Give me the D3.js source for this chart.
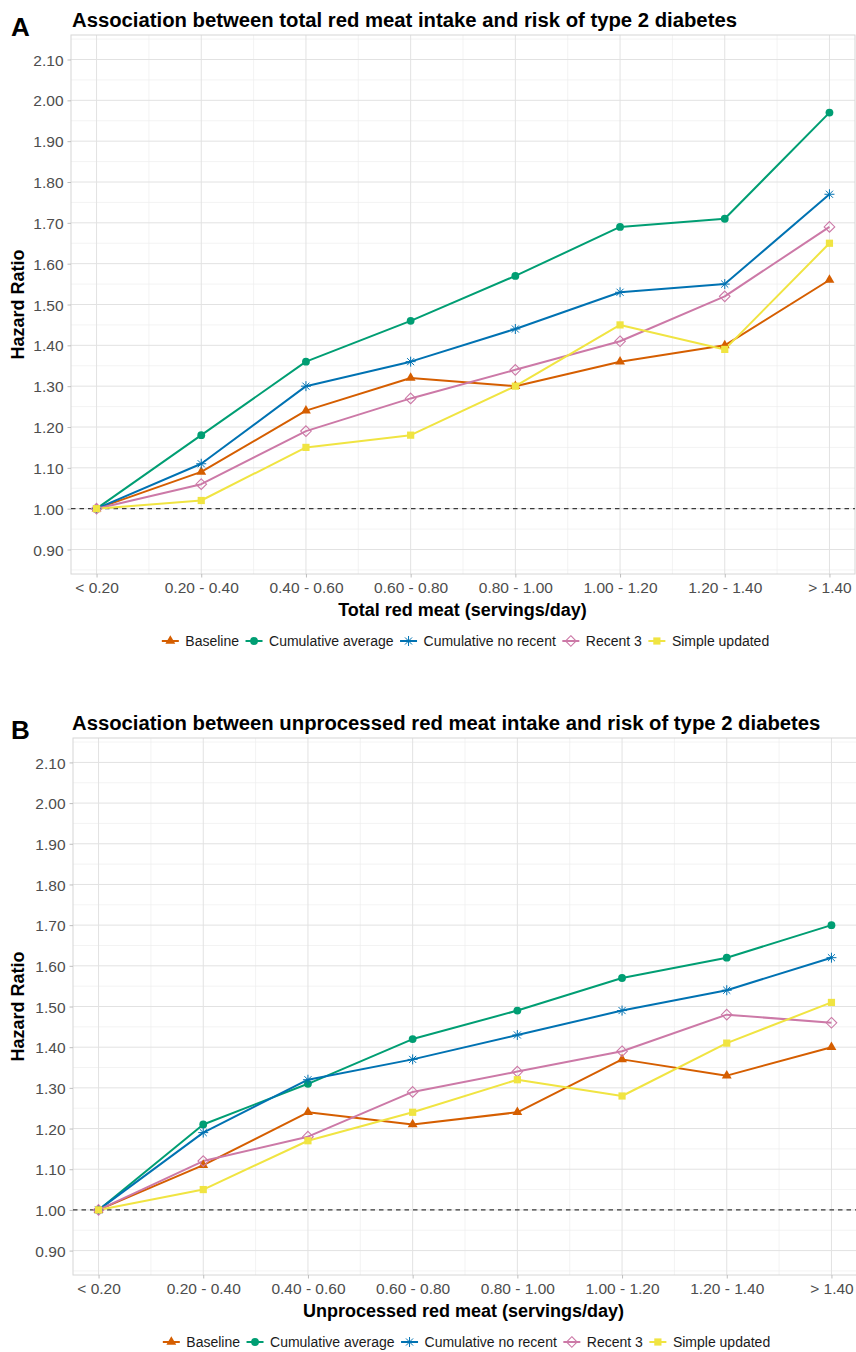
<!DOCTYPE html>
<html>
<head>
<meta charset="utf-8">
<script src="https://cdn.jsdelivr.net/npm/d3@7"></script>
<style>
  html, body { margin: 0; padding: 0; background: #fff; }
  svg { display: block; font-family: "Liberation Sans", Arial, Helvetica, sans-serif; }
</style>
</head>
<body>
<svg id="chart" width="856" height="1352"></svg>
<script>
// ---------------- DATA ----------------
const categories = ["< 0.20", "0.20 - 0.40", "0.40 - 0.60", "0.60 - 0.80", "0.80 - 1.00", "1.00 - 1.20", "1.20 - 1.40", "> 1.40"];
const seriesNames = ["Baseline", "Cumulative average", "Cumulative no recent", "Recent 3", "Simple updated"];
const seriesColors = ["#D55E00", "#009E73", "#0072B2", "#CC79A7", "#F0E442"];
const seriesShapes = ["triangle", "circle", "asterisk", "diamond", "square"];
const yTicks = [0.90, 1.00, 1.10, 1.20, 1.30, 1.40, 1.50, 1.60, 1.70, 1.80, 1.90, 2.00, 2.10];
const yMinorTicks = [0.85, 0.95, 1.05, 1.15, 1.25, 1.35, 1.45, 1.55, 1.65, 1.75, 1.85, 1.95, 2.05, 2.15];
const yDomain = [0.84, 2.16];
const refLine = 1.00;

// Panel A: total red meat
const totalBaseline     = [1.00, 1.09, 1.24, 1.32, 1.30, 1.36, 1.40, 1.56];
const totalCumAverage   = [1.00, 1.18, 1.36, 1.46, 1.57, 1.69, 1.71, 1.97];
const totalCumNoRecent  = [1.00, 1.11, 1.30, 1.36, 1.44, 1.53, 1.55, 1.77];
const totalRecent3      = [1.00, 1.06, 1.19, 1.27, 1.34, 1.41, 1.52, 1.69];
const totalSimpleUpd    = [1.00, 1.02, 1.15, 1.18, 1.30, 1.45, 1.39, 1.65];

// Panel B: unprocessed red meat
const unprocBaseline    = [1.00, 1.11, 1.24, 1.21, 1.24, 1.37, 1.33, 1.40];
const unprocCumAverage  = [1.00, 1.21, 1.31, 1.42, 1.49, 1.57, 1.62, 1.70];
const unprocCumNoRecent = [1.00, 1.19, 1.32, 1.37, 1.43, 1.49, 1.54, 1.62];
const unprocRecent3     = [1.00, 1.12, 1.18, 1.29, 1.34, 1.39, 1.48, 1.46];
const unprocSimpleUpd   = [1.00, 1.05, 1.17, 1.24, 1.32, 1.28, 1.41, 1.51];

const panels = [
  { tag: "A", title: "Association between total red meat intake and risk of type 2 diabetes",
    xTitle: "Total red meat (servings/day)",
    values: [totalBaseline, totalCumAverage, totalCumNoRecent, totalRecent3, totalSimpleUpd],
    top: 35, bottom: 574, left: 71, right: 855 },
  { tag: "B", title: "Association between unprocessed red meat intake and risk of type 2 diabetes",
    xTitle: "Unprocessed red meat (servings/day)",
    values: [unprocBaseline, unprocCumAverage, unprocCumNoRecent, unprocRecent3, unprocSimpleUpd],
    top: 738, bottom: 1275, left: 73, right: 857 }
];

// ---------------- DRAW ----------------
const svg = d3.select("#chart");

function shapePath(shape) {
  switch (shape) {
    case "triangle": return d3.symbol(d3.symbolTriangle, 42)();
    case "circle": return d3.symbol(d3.symbolCircle, 48)();
    case "square": return d3.symbol(d3.symbolSquare, 52)();
    case "diamond": { const r = 5.3; return `M0,${-r}L${r},0L0,${r}L${-r},0Z`; }
    case "asterisk": {
      const r = 5, d = r * 0.7071;
      return `M${-r},0L${r},0M0,${-r}L0,${r}M${-d},${-d}L${d},${d}M${-d},${d}L${d},${-d}`;
    }
  }
}
function styleMarker(sel, shape, color) {
  if (shape === "diamond") sel.attr("fill", "none").attr("stroke", color).attr("stroke-width", 1.1);
  else if (shape === "asterisk") sel.attr("fill", "none").attr("stroke", color).attr("stroke-width", 1.0);
  else sel.attr("fill", color).attr("stroke", "none");
}

panels.forEach(p => {
  const g = svg.append("g");
  const x = d3.scalePoint().domain(categories).range([p.left, p.right]).padding(0.244);
  const y = d3.scaleLinear().domain(yDomain).range([p.bottom, p.top]);
  const step = x.step();

  const clipId = "clip" + p.tag;
  svg.append("clipPath").attr("id", clipId).append("rect")
    .attr("x", p.left).attr("y", p.top).attr("width", Math.min(p.right, 856) - p.left).attr("height", p.bottom - p.top);

  const grid = g.append("g").attr("clip-path", `url(#${clipId})`);
  grid.selectAll(".hmin").data(yMinorTicks).join("line")
    .attr("x1", p.left).attr("x2", p.right).attr("y1", d => y(d)).attr("y2", d => y(d))
    .attr("stroke", "#eeeeee").attr("stroke-width", 0.7);
  grid.selectAll(".vmin").data(categories.slice(1)).join("line")
    .attr("x1", d => x(d) - step / 2).attr("x2", d => x(d) - step / 2)
    .attr("y1", p.top).attr("y2", p.bottom)
    .attr("stroke", "#eeeeee").attr("stroke-width", 0.7);
  grid.selectAll(".hmaj").data(yTicks).join("line")
    .attr("x1", p.left).attr("x2", p.right).attr("y1", d => y(d)).attr("y2", d => y(d))
    .attr("stroke", "#e2e2e2").attr("stroke-width", 1);
  grid.selectAll(".vmaj").data(categories).join("line")
    .attr("x1", d => x(d)).attr("x2", d => x(d)).attr("y1", p.top).attr("y2", p.bottom)
    .attr("stroke", "#e2e2e2").attr("stroke-width", 1);

  g.append("rect").attr("x", p.left).attr("y", p.top)
    .attr("width", p.right - p.left).attr("height", p.bottom - p.top)
    .attr("fill", "none").attr("stroke", "#d6d6d6").attr("stroke-width", 1);

  const yAxis = g.append("g").attr("transform", `translate(${p.left},0)`)
    .call(d3.axisLeft(y).tickValues(yTicks).tickFormat(d3.format(".2f")).tickSize(3.5).tickPadding(4));
  const xAxis = g.append("g").attr("transform", `translate(0,${p.bottom})`)
    .call(d3.axisBottom(x).tickSize(3.5).tickPadding(4));
  [yAxis, xAxis].forEach(a => {
    a.select(".domain").remove();
    a.selectAll(".tick line").attr("stroke", "#bdbdbd");
    a.selectAll(".tick text").attr("fill", "#4d4d4d").style("font-size", "15.5px")
      .style("font-family", "'Liberation Sans', Arial, Helvetica, sans-serif");
  });
  yAxis.selectAll(".tick text").attr("dy", "0.36em");

  g.append("line").attr("x1", p.left).attr("x2", Math.min(p.right, 856))
    .attr("y1", y(refLine)).attr("y2", y(refLine))
    .attr("stroke", "#3a3a3a").attr("stroke-width", 1.3).attr("stroke-dasharray", "4.5,4");

  const line = d3.line().x((d, i) => x(categories[i])).y(d => y(d));
  const sg = g.append("g").attr("clip-path", `url(#${clipId})`);
  p.values.forEach((vals, si) => {
    sg.append("path").datum(vals).attr("d", line)
      .attr("fill", "none").attr("stroke", seriesColors[si]).attr("stroke-width", 2)
      .attr("stroke-linejoin", "round");
  });
  p.values.forEach((vals, si) => {
    sg.selectAll(null).data(vals).join("path")
      .attr("transform", (d, i) => `translate(${x(categories[i])},${y(d)})`)
      .attr("d", shapePath(seriesShapes[si]))
      .call(s => styleMarker(s, seriesShapes[si], seriesColors[si]));
  });

  g.append("text").attr("x", 11).attr("y", p.top + 1).text(p.tag)
    .style("font-size", "26px").style("font-weight", "bold").attr("fill", "#000");
  g.append("text").attr("x", 72).attr("y", p.top - 8).text(p.title)
    .style("font-size", "20.3px").style("font-weight", "bold").attr("fill", "#000");
  g.append("text").attr("transform", `translate(24,${(p.top + p.bottom) / 2}) rotate(-90)`)
    .attr("text-anchor", "middle").text("Hazard Ratio")
    .style("font-size", "18px").style("font-weight", "bold").attr("fill", "#000");
  g.append("text").attr("x", (p.left + Math.min(p.right, 854)) / 2).attr("y", p.bottom + 42)
    .attr("text-anchor", "middle").text(p.xTitle)
    .style("font-size", "18px").style("font-weight", "bold").attr("fill", "#000");

  const lg = g.append("g");
  const ly = p.bottom + 67;
  const items = [];
  let cx = 0;
  seriesNames.forEach((name, si) => {
    const it = lg.append("g");
    it.append("line").attr("x1", -8.5).attr("x2", 8.5).attr("y1", 0).attr("y2", 0)
      .attr("stroke", seriesColors[si]).attr("stroke-width", 2);
    it.append("path").attr("d", shapePath(seriesShapes[si]))
      .call(s => styleMarker(s, seriesShapes[si], seriesColors[si]));
    const t = it.append("text").attr("x", 15).attr("dy", "0.35em").text(name)
      .style("font-size", "14px").attr("fill", "#1a1a1a");
    const w = t.node().getComputedTextLength();
    items.push({ it, cx });
    cx += 15 + w + 15;
  });
  const totalW = cx - 15 + 8.5;
  const start = (p.left + 852) / 2 - totalW / 2 + 8.5 + 4;
  items.forEach(o => o.it.attr("transform", `translate(${start + o.cx},${ly})`));
});
</script>
</body>
</html>
